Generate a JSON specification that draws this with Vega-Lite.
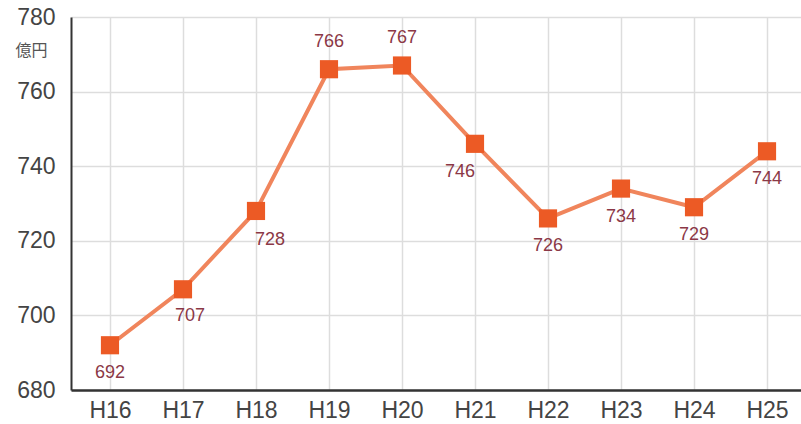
{
  "$schema": "https://vega.github.io/schema/vega-lite/v6.json",
  "autosize": {"type": "none"},
  "padding": {"left": 71, "top": 17, "right": 0, "bottom": 34},
  "width": 735,
  "height": 373,
  "background": "white",
  "config": {
    "font": "Liberation Sans",
    "view": {"stroke": null}
  },
  "data": {
    "values": [
      {"year": "H16", "value": 692, "pos": "below", "shift": 0},
      {"year": "H17", "value": 707, "pos": "below", "shift": 1},
      {"year": "H18", "value": 728, "pos": "below", "shift": 2},
      {"year": "H19", "value": 766, "pos": "above", "shift": 0},
      {"year": "H20", "value": 767, "pos": "above", "shift": 0},
      {"year": "H21", "value": 746, "pos": "below", "shift": -2},
      {"year": "H22", "value": 726, "pos": "below", "shift": 0},
      {"year": "H23", "value": 734, "pos": "below", "shift": 0},
      {"year": "H24", "value": 729, "pos": "below", "shift": 0},
      {"year": "H25", "value": 744, "pos": "below", "shift": 0}
    ]
  },
  "encoding": {
    "x": {
      "field": "year",
      "type": "ordinal",
      "scale": {"type": "point", "padding": 0.534},
      "axis": {
        "title": null,
        "labelAngle": 0,
        "labelFontSize": 23,
        "labelColor": "#444444",
        "labelPadding": 9,
        "ticks": false,
        "domainColor": "#333333",
        "domainWidth": 2.5,
        "grid": true,
        "gridColor": "#dddddd",
        "gridWidth": 1.5
      }
    },
    "y": {
      "field": "value",
      "type": "quantitative",
      "scale": {"domain": [680, 780], "nice": false, "zero": false},
      "axis": {
        "values": [680, 700, 720, 740, 760, 780],
        "title": "億円",
        "titleAngle": 0,
        "titleX": -40,
        "titleY": 33,
        "titleAlign": "center",
        "titleBaseline": "middle",
        "titleFontSize": 16,
        "titleFontWeight": "normal",
        "titleColor": "#555555",
        "titleFont": "Noto Sans CJK JP",
        "labelFontSize": 23,
        "labelColor": "#444444",
        "labelPadding": 16,
        "ticks": false,
        "domainColor": "#333333",
        "domainWidth": 2,
        "gridColor": "#dddddd",
        "gridWidth": 1.5
      }
    }
  },
  "layer": [
    {
      "mark": {"type": "line", "color": "#f0855c", "strokeWidth": 4}
    },
    {
      "mark": {"type": "point", "shape": "square", "filled": true, "size": 330, "color": "#ec5a25", "opacity": 1}
    },
    {
      "transform": [{"filter": "datum.pos == 'above'"}],
      "mark": {"type": "text", "dy": -27, "fontSize": 18, "color": "#8b3846", "baseline": "middle"},
      "encoding": {"text": {"field": "value", "type": "quantitative"}}
    },
    {
      "transform": [{"filter": "datum.pos == 'below' && datum.shift == 0"}],
      "mark": {"type": "text", "dy": 28, "fontSize": 18, "color": "#8b3846", "baseline": "middle"},
      "encoding": {"text": {"field": "value", "type": "quantitative"}}
    },
    {
      "transform": [{"filter": "datum.shift == 1"}],
      "mark": {"type": "text", "dy": 27, "dx": 7, "fontSize": 18, "color": "#8b3846", "baseline": "middle"},
      "encoding": {"text": {"field": "value", "type": "quantitative"}}
    },
    {
      "transform": [{"filter": "datum.shift == 2"}],
      "mark": {"type": "text", "dy": 29, "dx": 14, "fontSize": 18, "color": "#8b3846", "baseline": "middle"},
      "encoding": {"text": {"field": "value", "type": "quantitative"}}
    },
    {
      "transform": [{"filter": "datum.shift == -2"}],
      "mark": {"type": "text", "dy": 28, "dx": -15, "fontSize": 18, "color": "#8b3846", "baseline": "middle"},
      "encoding": {"text": {"field": "value", "type": "quantitative"}}
    }
  ]
}
